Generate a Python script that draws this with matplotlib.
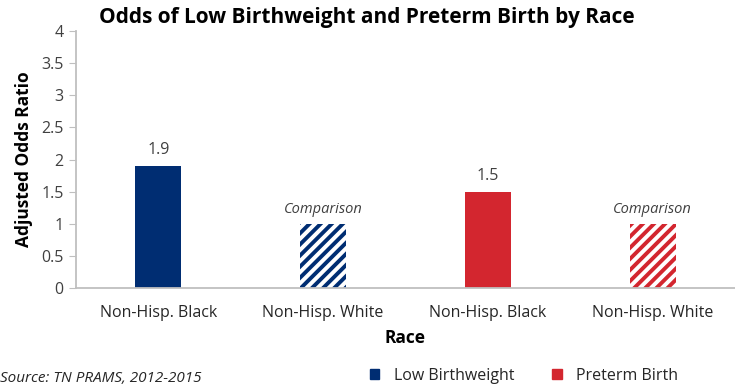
import numpy as np
import matplotlib.pyplot as plt
from matplotlib.patches import Patch

plt.rcParams['font.family'] = ['Open Sans', 'DejaVu Sans']
plt.rcParams['hatch.linewidth'] = 2.8

# data
categories = ['Non-Hisp. Black', 'Non-Hisp. White', 'Non-Hisp. Black', 'Non-Hisp. White']
values = [1.9, 1.0, 1.5, 1.0]
labels = ['1.9', 'Comparison', '1.5', 'Comparison']
groups = ['Low Birthweight', 'Low Birthweight', 'Preterm Birth', 'Preterm Birth']
hatched = [False, True, False, True]

NAVY = '#002d72'
RED = '#d3262f'
colors = {'Low Birthweight': NAVY, 'Preterm Birth': RED}
GRAY = '#bfbfbf'

fig = plt.figure(figsize=(7.35, 3.87), dpi=100)
ax = fig.add_axes([76 / 735, 1 - 288 / 387, 659 / 735, 257 / 387])

x = np.arange(len(categories))
for i in range(len(categories)):
    c = colors[groups[i]]
    if hatched[i]:
        ax.bar(x[i], values[i], width=0.28, facecolor='white', edgecolor=c,
               hatch='///', linewidth=0)
        ax.text(x[i], values[i] + 0.1, labels[i], ha='center', va='bottom',
                fontsize=10.5, style='italic', color='#404040')
    else:
        ax.bar(x[i], values[i], width=0.28, color=c, linewidth=0)
        ax.text(x[i], values[i] + 0.12, labels[i], ha='center', va='bottom',
                fontsize=11.5, color='#404040')

ax.set_xlim(-0.5, 3.5)
ax.set_ylim(0, 4)
ax.set_yticks(np.arange(0, 4.01, 0.5))
ax.set_yticklabels(['0', '0.5', '1', '1.5', '2', '2.5', '3', '3.5', '4'])
ax.set_xticks(x)
ax.set_xticklabels(categories)
ax.tick_params(axis='y', length=5, color=GRAY, labelsize=11.5, labelcolor='#404040', pad=4)
ax.tick_params(axis='x', length=0, labelsize=11.5, labelcolor='#262626', pad=12)
for s in ['top', 'right']:
    ax.spines[s].set_visible(False)
ax.spines['left'].set_color(GRAY)
ax.spines['bottom'].set_color(GRAY)
ax.spines['left'].set_linewidth(1.3)
ax.spines['bottom'].set_linewidth(1.3)

ax.set_xlabel('Race', fontsize=12.5, fontweight='bold', labelpad=6)
ax.set_ylabel('Adjusted Odds Ratio', fontsize=12.5, fontweight='bold', labelpad=6)

fig.text(367 / 735, 1 - 18 / 387, 'Odds of Low Birthweight and Preterm Birth by Race',
         ha='center', va='center', fontsize=15, fontweight='bold')

fig.text(0.0, 1 - 379 / 387, 'Source: TN PRAMS, 2012-2015', ha='left', va='center',
         fontsize=11, style='italic', color='#262626')

handles = [Patch(color=NAVY, label='Low Birthweight'), Patch(color=RED, label='Preterm Birth')]
fig.legend(handles=handles, loc='center', bbox_to_anchor=(524 / 735, 1 - 376 / 387), ncol=2,
           frameon=False, fontsize=11.5, handlelength=0.6, handleheight=0.6,
           handletextpad=0.9, columnspacing=2.4, labelcolor='#262626')

fig.savefig('out.png', dpi=100)
